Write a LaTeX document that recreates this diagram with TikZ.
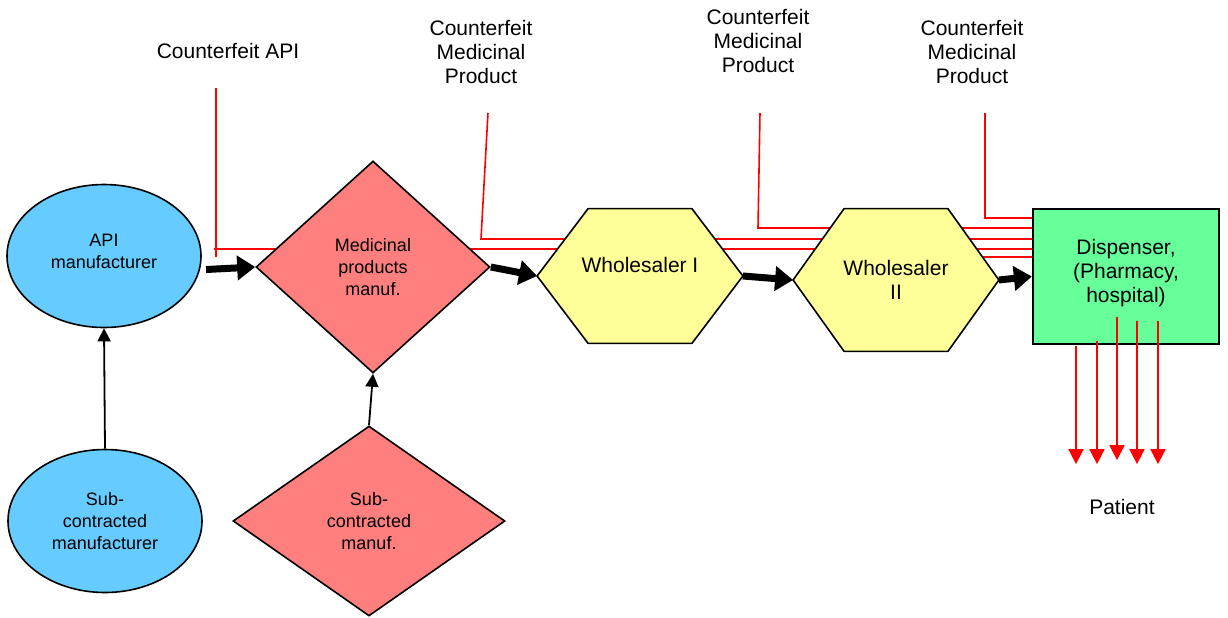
\documentclass[tikz,border=0pt]{standalone}
\usepackage{fontspec}
\setmainfont{Liberation Sans}
\usetikzlibrary{shapes.geometric,arrows.meta,backgrounds}
\definecolor{apiblue}{HTML}{66CCFF}
\definecolor{makerred}{HTML}{FF7F7F}
\definecolor{traderyellow}{HTML}{FFFF99}
\definecolor{dispgreen}{HTML}{66FF99}

\begin{document}
\begin{tikzpicture}[
    x=0.5pt, y=-0.5pt,
    every node/.style={
        align=center,
        inner sep=0pt
    },
    small/.style={font=\fontsize{9}{11}\selectfont},
    large/.style={font=\fontsize{10.5}{12}\selectfont},
    supplier/.style={ellipse, draw, line width=0.8pt, fill=apiblue,
        minimum width=97pt, minimum height=71.5pt, small},
    maker/.style={diamond, draw, line width=0.8pt, fill=makerred, small},
    trader/.style={rectangle, minimum width=102.5pt, large},
    hexagon/.style={draw, line width=0.8pt, fill=traderyellow},
    dispenser/.style={rectangle, draw, line width=1.1pt, fill=dispgreen,
        minimum width=93pt, minimum height=67.5pt, large},
    flow/.style={-{Triangle[length=9pt,width=12pt]}, line width=3.5pt},
    feed/.style={-{Triangle[length=6.5pt,width=6.5pt]}, line width=0.9pt},
    cfline/.style={red, line width=0.8pt},
    patarrow/.style={-{Triangle[length=7.5pt,width=7.5pt]}, red, line width=0.9pt},
    lbl/.style={large}
]
\useasboundingbox (0,0) rectangle (1228,617);

\node[supplier, text depth=5pt] (api) at (104,256) {API\\manufacturer};
\node[supplier] (subapi) at (105,521) {Sub-\\contracted\\manufacturer};
\node[maker, minimum width=117pt, minimum height=106pt] (med) at (373,267)
    {Medicinal\\products\\manuf.};
\node[maker, minimum width=136pt, minimum height=95pt] (submed) at (369,521)
    {Sub-\\contracted\\manuf.};
\node[trader, minimum height=67pt, text depth=11pt] (wsone) at (640,276) {Wholesaler I};
\node[trader, minimum height=71pt] (wstwo) at (896,280) {Wholesaler\\II};
\node[dispenser, text depth=6pt] (disp) at (1126,276.5) {Dispenser,\\(Pharmacy,\\hospital)};

\node[lbl] (lblapi) at (228,51) {Counterfeit API};
\node[lbl] (lblone) at (481,52) {Counterfeit\\Medicinal\\Product};
\node[lbl] (lbltwo) at (758,41) {Counterfeit\\Medicinal\\Product};
\node[lbl] (lblthree) at (972,52) {Counterfeit\\Medicinal\\Product};
\node[lbl] (patient) at (1122,507) {Patient};

\coordinate (cfapi) at (216,88);
\coordinate (cfone) at (488,113);
\coordinate (cftwo) at (760,113);
\coordinate (cfthree) at (985,113);

\begin{scope}[on background layer]
\draw[cfline] (cfapi) -- ++(0,169);
\draw[cfline] (cfapi) ++(-2,161) coordinate (hone) -- (hone -| disp.west);
\draw[cfline] (cfone) -- ++(-7,126) coordinate (htwo) -- (htwo -| disp.west);
\draw[cfline] (cftwo) -- ++(-2,115) coordinate (hthree) -- (hthree -| disp.west);
\draw[cfline] (cfthree) -- ++(0,105) coordinate (hfour) -- (hfour -| disp.west);
\draw[cfline] (wstwo.center) ++(0,-23) coordinate (hfive) -- (hfive -| disp.west);
\foreach \hx in {wsone,wstwo}
    \filldraw[hexagon] (\hx.west) -- ([xshift=25.5pt]\hx.north west)
        -- ([xshift=-25.5pt]\hx.north east) -- (\hx.east)
        -- ([xshift=-25.5pt]\hx.south east) -- ([xshift=25.5pt]\hx.south west)
        -- cycle;
\end{scope}

\draw[flow] ([xshift=3pt]api.-8) -- (med.west);
\draw[flow] (med.east) -- (wsone.west);
\draw[flow] (wsone.east) -- (wstwo.west);
\draw[flow] (wstwo.east) -- (disp.west);
\draw[feed] (subapi.north) -- (api.south);
\draw[feed] (submed.north) -- (med.south);

\foreach \dx/\dt/\len in {-50/1/118, -29/-4/123, -9/-28/143, 11/-24/143, 32/-24/143}
    \draw[patarrow] (disp.south) ++(\dx,\dt) -- ++(0,\len);
\end{tikzpicture}
\end{document}
